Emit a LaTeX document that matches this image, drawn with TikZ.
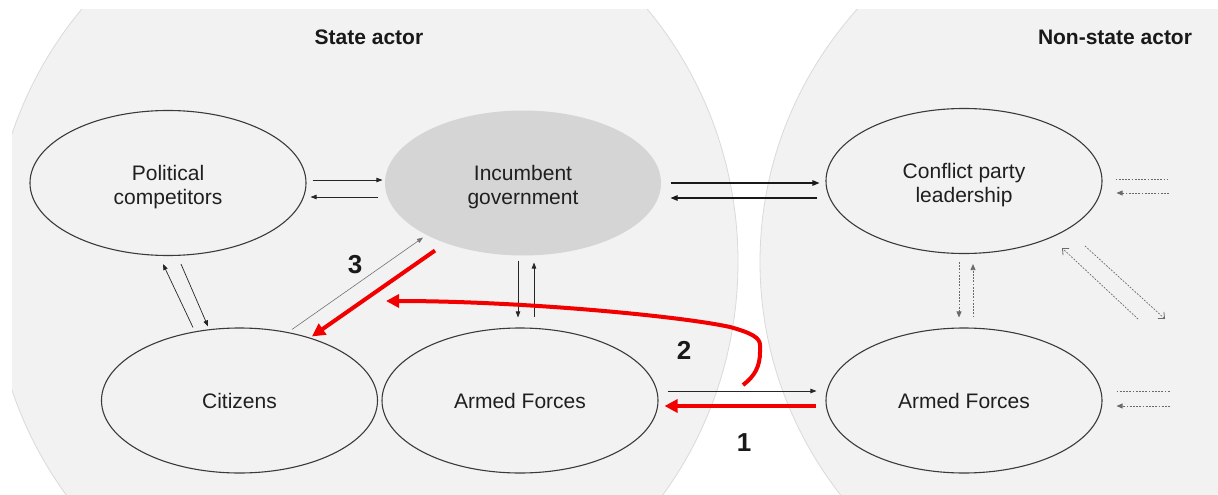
\documentclass[tikz,border=0pt]{standalone}
\usepackage{fontspec}
\setmainfont{Liberation Sans}
\usetikzlibrary{shapes.geometric,arrows.meta,calc}
\definecolor{bgfill}{HTML}{F2F2F2}
\definecolor{bgedge}{HTML}{DADADA}
\definecolor{incfill}{HTML}{D5D5D5}
\definecolor{ellline}{HTML}{3A3A3A}
\definecolor{redarrow}{HTML}{F20000}
\definecolor{dotgray}{HTML}{6A6A6A}
\newcommand{\topstrut}{\rule{0pt}{23pt}}
\begin{document}
\begin{tikzpicture}[x=1pt,y=-1pt,
  actor/.style={ellipse, draw=ellline, line width=1.1pt, fill=bgfill, inner sep=0pt,
    minimum width=276pt, minimum height=145pt, align=center, text=black!88,
    font=\fontsize{21}{24.5}\selectfont},
  govt/.style={actor, draw=none, fill=incfill},
  thinarr/.style={line width=0.7pt, draw=black!85, -{Triangle[length=6pt,width=4.5pt]}},
  midarr/.style={line width=1.1pt, draw=black!90, -{Triangle[length=7pt,width=5.5pt]}},
  grayarr/.style={line width=0.6pt, draw=black!55, -{Triangle[length=6pt,width=4.5pt]}},
  redarr/.style={line width=4.5pt, draw=redarrow, -{Triangle[length=13pt,width=13pt]}},
  dotline/.style={line width=0.7pt, draw=dotgray, dash pattern=on 1.8pt off 1.4pt},
  dotarr/.style={dotline, -{Triangle[length=6pt,width=5pt]}},
  dotopen/.style={dotline, -{Straight Barb[length=5pt,width=9pt,line width=0.8pt]}},
  title/.style={font=\bfseries\fontsize{21}{24}\selectfont, text=black!90},
  num/.style={font=\bfseries\fontsize{26}{30}\selectfont, text=black!90}]
\useasboundingbox (0,0) rectangle (1218,495);
\fill[white] (0,0) rectangle (1218,495);
\begin{scope}
  \clip (12,10) rectangle (1218,495);
  \filldraw[fill=bgfill, draw=bgedge, line width=0.8pt] (364.5,262) ellipse [x radius=373.5, y radius=387];
  \filldraw[fill=bgfill, draw=bgedge, line width=0.8pt] (1160,262) ellipse [x radius=400, y radius=387];
\end{scope}

\node[title] (tstate) at (369,37) {State actor};
\node[title] (tnon) at (1115,37) {Non-state actor};

\node[actor] (pol) at (168,183) {\topstrut Political\\competitors};
\node[govt]  (inc) at (523,183) {\topstrut Incumbent\\government};
\node[actor] (cpl) at (964,181) {\topstrut Conflict party\\leadership};
\node[actor] (cit) at (239.5,400.5) {Citizens};
\node[actor] (saf) at (520,400.5) {Armed Forces};
\node[actor] (naf) at (964,400.5) {Armed Forces};

% political <-> incumbent
\draw[thinarr] ([shift={(6,-3)}]pol.east) -- ([shift={(-2,-3)}]inc.west);
\draw[thinarr] ([shift={(-6,14)}]inc.west) -- ([shift={(4,14)}]pol.east);
% incumbent <-> conflict party
\draw[midarr] ([shift={(9,0)}]inc.east) -- ([shift={(-6,2)}]cpl.west);
\draw[midarr] ([shift={(-8,17)}]cpl.west) -- ([shift={(9,15)}]inc.east);
% political <-> citizens
\draw[thinarr] ([shift={(-46.5,0)}]cit.north) -- ([shift={(-5,8)}]pol.south);
\draw[thinarr] ([shift={(13,8)}]pol.south) -- ([shift={(-31.5,-1)}]cit.north);
% citizens -> incumbent (gray)
\draw[grayarr] ([shift={(52.5,2)}]cit.north) -- ([shift={(-100,-18.5)}]inc.south);
% incumbent <-> state armed forces
\draw[thinarr] ([shift={(-5,4.5)}]inc.south) -- ([shift={(-2,-10)}]saf.north);
\draw[thinarr] ([shift={(14,-10)}]saf.north) -- ([shift={(11,6.5)}]inc.south);
% state AF -> non-state AF
\draw[thinarr] ([shift={(9,-9.5)}]saf.east) -- ([shift={(-9,-9.5)}]naf.west);
% conflict party <-> non-state AF (dotted)
\draw[dotarr] ([shift={(-5,8)}]cpl.south) -- ([shift={(-5,-10)}]naf.north);
\draw[dotarr] ([shift={(9,-10)}]naf.north) -- ([shift={(9,10)}]cpl.south);
% dotted connectors to the right
\coordinate (cr1) at (1168,179);
\coordinate (cr2) at (1169,193);
\coordinate (ar1) at (1170,391);
\coordinate (ar2) at (1170,406);
\draw[dotline] ([shift={(13,-2)}]cpl.east) -- (cr1);
\draw[dotarr] (cr2) -- ([shift={(14,12)}]cpl.east);
\draw[dotline] ([shift={(14,-9.5)}]naf.east) -- (ar1);
\draw[dotarr] (ar2) -- ([shift={(14,5.5)}]naf.east);
% diagonal dotted
\coordinate (dg1) at (1138,319);
\coordinate (dg2) at (1165,319);
\draw[dotopen] (dg1) -- (1062,248);
\draw[dotopen] (1085,246) -- (dg2);

% red arrows
\draw[redarr] ([shift={(-9,5.5)}]naf.west) -- ([shift={(6,5.5)}]saf.east);
\draw[redarr, line width=4pt] ([shift={(-88,-5.5)}]inc.south) -- ([shift={(72.5,9)}]cit.north);
\coordinate (r2s) at (743,385);
\coordinate (r2e) at (386,301);
\draw[redarr, line width=4pt] (r2s) .. controls (755,376) and (760,366) .. (760,352)
  -- (760,345) .. controls (760,338) and (752,333) .. (730,327)
  .. controls (680,316) and (520,301) .. (r2e);

\node[num] (n3) at (355,265) {3};
\node[num] (n2) at (684,350) {2};
\node[num] (n1) at (744,443) {1};
\end{tikzpicture}
\end{document}
